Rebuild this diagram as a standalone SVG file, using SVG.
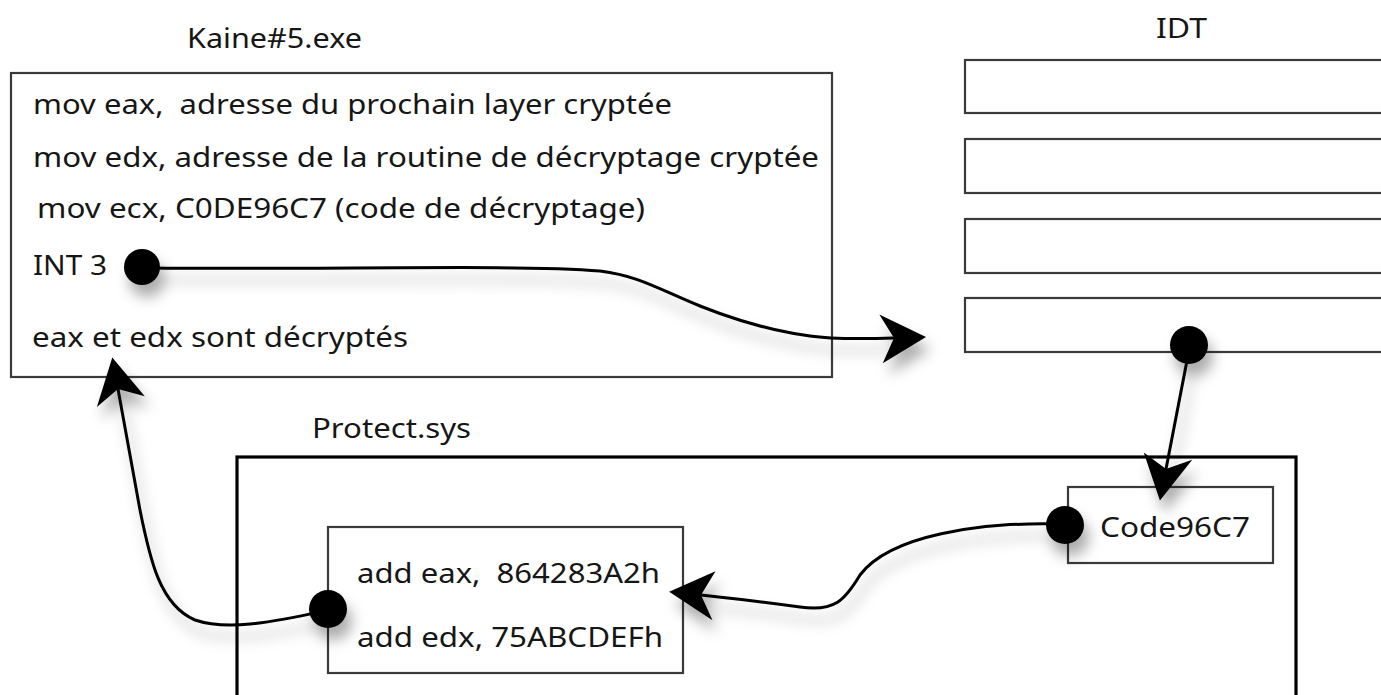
<svg xmlns="http://www.w3.org/2000/svg" width="1381" height="695" viewBox="0 0 1381 695">
<style>
text{font-family:"Noto Sans","Liberation Sans",sans-serif;font-size:28px;fill:#161616;white-space:pre}
.box{fill:#fff;stroke:#3a3a3a;stroke-width:2.2}
.big{fill:none;stroke:#000;stroke-width:3.2}
.con{fill:none;stroke:#000;stroke-width:3}
.dot{fill:#000}
</style>
<defs>
<filter id="sh" x="-20%" y="-20%" width="150%" height="160%">
<feDropShadow dx="5" dy="12" stdDeviation="7" flood-color="#000" flood-opacity="0.33"/>
</filter>
<marker id="arr" viewBox="-16 -26 50 52" refX="0" refY="0" markerWidth="50" markerHeight="52" markerUnits="userSpaceOnUse" orient="auto">
<path d="M32,0 L-14,-24 L0,0 L-12,25 Z" fill="#000"/>
</marker>
</defs>
<rect width="1381" height="695" fill="#fff"/>

<g id="kaine">
<text x="187" y="48" textLength="175" lengthAdjust="spacingAndGlyphs">Kaine#5.exe</text>
<rect class="box" x="11" y="73" width="821" height="304"/>
<text x="33" y="114" textLength="639" lengthAdjust="spacingAndGlyphs" xml:space="preserve">mov eax,  adresse du prochain layer cryptée</text>
<text x="33" y="167" textLength="786" lengthAdjust="spacingAndGlyphs">mov edx, adresse de la routine de décryptage cryptée</text>
<text x="37" y="218" textLength="608" lengthAdjust="spacingAndGlyphs">mov ecx, C0DE96C7 (code de décryptage)</text>
<text x="33" y="275" textLength="74" lengthAdjust="spacingAndGlyphs">INT 3</text>
<text x="32" y="347" textLength="376" lengthAdjust="spacingAndGlyphs">eax et edx sont décryptés</text>
</g>

<g id="idt">
<text x="1156" y="38" textLength="51" lengthAdjust="spacingAndGlyphs">IDT</text>
<rect class="box" x="965" y="60" width="430" height="53"/>
<rect class="box" x="965" y="139" width="430" height="54"/>
<rect class="box" x="965" y="219" width="430" height="54"/>
<rect class="box" x="965" y="298" width="430" height="54"/>
</g>

<g id="protect">
<text x="312" y="438" textLength="159" lengthAdjust="spacingAndGlyphs">Protect.sys</text>
<rect class="big" x="237" y="457" width="1059" height="260"/>
</g>

<g id="addbox">
<rect class="box" x="328" y="527" width="355" height="146"/>
<text x="357" y="583" textLength="303" lengthAdjust="spacingAndGlyphs" xml:space="preserve">add eax,  864283A2h</text>
<text x="357" y="647" textLength="306" lengthAdjust="spacingAndGlyphs">add edx, 75ABCDEFh</text>
</g>

<g id="code">
<rect class="box" x="1068" y="487" width="205" height="76"/>
<text x="1100" y="537" textLength="150" lengthAdjust="spacingAndGlyphs">Code96C7</text>
</g>

<g id="connectors" filter="url(#sh)">
<path class="con" d="M150,268 C320,270 520,264 600,271 C640,276 660,290 700,306 C740,322 780,332 810,336 C830,339 860,339 894,338" marker-end="url(#arr)"/>
<circle class="dot" cx="142" cy="267" r="18"/>
<path class="con" d="M1190,345 L1166,469" marker-end="url(#arr)"/>
<circle class="dot" cx="1189" cy="345" r="19"/>
<path class="con" d="M1060,524 C980,522 890,535 860,575 C845,600 835,612 800,607 C770,603 730,598 701,595" marker-end="url(#arr)"/>
<circle class="dot" cx="1065" cy="525" r="19"/>
<path class="con" d="M320,612 C280,620 230,632 195,620 C160,605 150,560 140,510 L118,389" marker-end="url(#arr)"/>
<circle class="dot" cx="328" cy="609" r="19"/>
</g>
</svg>
